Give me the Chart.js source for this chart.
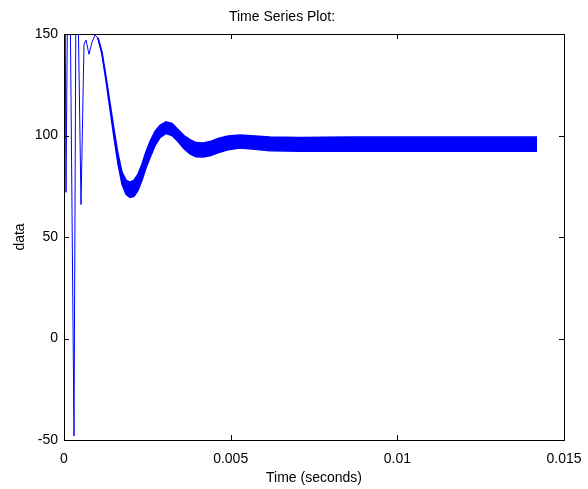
<!DOCTYPE html>
<html>
<head>
<meta charset="utf-8">
<script src="https://cdn.jsdelivr.net/npm/chart.js@4/dist/chart.umd.min.js"></script>
<style>
  html, body { margin: 0; padding: 0; background: #fff; }
  canvas { display: block; }
</style>
</head>
<body>
<canvas id="tsChart" width="588" height="489"></canvas>
<script>
// start-up transient (seconds, value) - values above 150 get clipped by the axes
var transientTime = [0, 0.00003, 0.00006, 0.00011, 0.00018, 0.0003, 0.00036, 0.00042, 0.00051, 0.0006, 0.00066, 0.00075, 0.00084, 0.00093, 0.00102];
var transientData = [0, 175, 72, 175, 175, -48, 175, 165, 66, 145, 147, 140, 146, 149.5, 148];

// ripple band after the transient: upper / lower envelope
var bandTime = [0.00102, 0.00114, 0.00126, 0.00138, 0.0015, 0.00162, 0.00174, 0.00186, 0.00198, 0.0021,
                0.00222, 0.00234, 0.00246, 0.00258, 0.00273, 0.00288, 0.00306, 0.00324, 0.00342, 0.0036,
                0.00378, 0.00396, 0.00417, 0.00438, 0.00462, 0.00492, 0.00528, 0.00573, 0.00618, 0.00708,
                0.00858, 0.01008, 0.01158, 0.01419];
var bandUpper = [148, 141, 129, 116, 103, 91, 82, 78, 77, 78,
                 81, 86, 92, 97, 102, 105, 106.8, 106, 103, 100,
                 98, 96.5, 96.3, 97, 98.5, 99.8, 100.3, 99.8, 99.3, 99,
                 99.2, 99.2, 99.2, 99.2];
var bandLower = [148, 140, 127, 113, 99, 86, 76, 71, 69.5, 70,
                 73, 78, 84, 89, 95, 99, 101, 100, 97, 93.5,
                 91, 89.5, 89.4, 90, 91.5, 93, 93.8, 93.2, 92.5, 92.2,
                 92.3, 92.2, 92.2, 92.2];

var xTicks = [0, 0.005, 0.01, 0.015];
var xTickLabels = ['0', '0.005', '0.01', '0.015'];
var yTicks = [-50, 0, 50, 100, 150];

function pts(xs, ys) {
    return xs.map(function (x, i) { return { x: x, y: ys[i] }; });
}

var fontFamily = '"Liberation Sans", Arial, Helvetica, sans-serif';
var fontSize = 14;

// box round the axes plus inward tick marks on all four sides
var boxPlugin = {
    id: 'matlabBox',
    afterDraw: function (chart) {
        var ctx = chart.ctx;
        var a = chart.chartArea;
        var xs = chart.scales.x, ys = chart.scales.y;
        var len = 5;
        ctx.save();
        ctx.strokeStyle = '#000';
        ctx.lineWidth = 1;
        ctx.beginPath();
        xTicks.forEach(function (v) {
            var px = Math.round(xs.getPixelForValue(v)) + 0.5;
            ctx.moveTo(px, a.bottom);
            ctx.lineTo(px, a.bottom - len);
            ctx.moveTo(px, a.top);
            ctx.lineTo(px, a.top + len);
        });
        yTicks.forEach(function (v) {
            var py = Math.round(ys.getPixelForValue(v)) + 0.5;
            ctx.moveTo(a.left, py);
            ctx.lineTo(a.left + len, py);
            ctx.moveTo(a.right, py);
            ctx.lineTo(a.right - len, py);
        });
        ctx.stroke();
        ctx.strokeRect(Math.round(a.left) + 0.5, Math.round(a.top) + 0.5,
            Math.round(a.right - a.left), Math.round(a.bottom - a.top));
        ctx.restore();
    }
};

var ctx = document.getElementById('tsChart').getContext('2d');
var tsChart = new Chart(ctx, {
    type: 'line',
    data: {
        datasets: [{
            label: 'transient',
            data: pts(transientTime, transientData),
            borderColor: '#0000ff',
            borderWidth: 1,
            pointRadius: 0,
            fill: false
        }, {
            label: 'lower',
            data: pts(bandTime, bandLower),
            borderColor: '#0000ff',
            borderWidth: 1.5,
            pointRadius: 0,
            fill: false
        }, {
            label: 'upper',
            data: pts(bandTime, bandUpper),
            borderColor: '#0000ff',
            backgroundColor: '#0000ff',
            borderWidth: 1.5,
            pointRadius: 0,
            fill: '-1'
        }]
    },
    options: {
        responsive: false,
        animation: false,
        layout: { padding: { left: 0, right: 24, top: 0, bottom: 0 } },
        plugins: {
            legend: { display: false },
            tooltip: { enabled: false },
            title: {
                display: true,
                text: 'Time Series Plot:',
                color: '#000',
                font: { family: fontFamily, size: fontSize, weight: 'normal' },
                padding: { top: 8.6, bottom: 8.6 }
            }
        },
        scales: {
            x: {
                type: 'linear',
                min: 0,
                max: 0.015,
                afterFit: function (s) {
                    s.height = 49;
                    s.paddingLeft = 0;
                    s.paddingRight = 0;
                },
                afterBuildTicks: function (s) {
                    s.ticks = xTicks.map(function (v) { return { value: v }; });
                },
                grid: { display: false, drawTicks: false },
                border: { display: false },
                ticks: {
                    color: '#000',
                    padding: 11,
                    maxRotation: 0,
                    font: { family: fontFamily, size: fontSize },
                    callback: function (v) {
                        var i = xTicks.indexOf(v);
                        return i >= 0 ? xTickLabels[i] : '';
                    }
                },
                title: {
                    display: true,
                    text: 'Time (seconds)',
                    color: '#000',
                    font: { family: fontFamily, size: fontSize },
                    padding: { top: 0, bottom: 2.6 }
                }
            },
            y: {
                min: -50,
                max: 150,
                afterFit: function (s) {
                    s.width = 64;
                    s.paddingTop = 0;
                    s.paddingBottom = 0;
                },
                afterBuildTicks: function (s) {
                    s.ticks = yTicks.map(function (v) { return { value: v }; });
                },
                grid: { display: false, drawTicks: false },
                border: { display: false },
                ticks: {
                    color: '#000',
                    padding: 6,
                    font: { family: fontFamily, size: fontSize }
                },
                title: {
                    display: true,
                    text: 'data',
                    color: '#000',
                    font: { family: fontFamily, size: fontSize },
                    padding: { top: 11.6, bottom: 0 }
                }
            }
        }
    },
    plugins: [boxPlugin]
});
</script>
</body>
</html>
